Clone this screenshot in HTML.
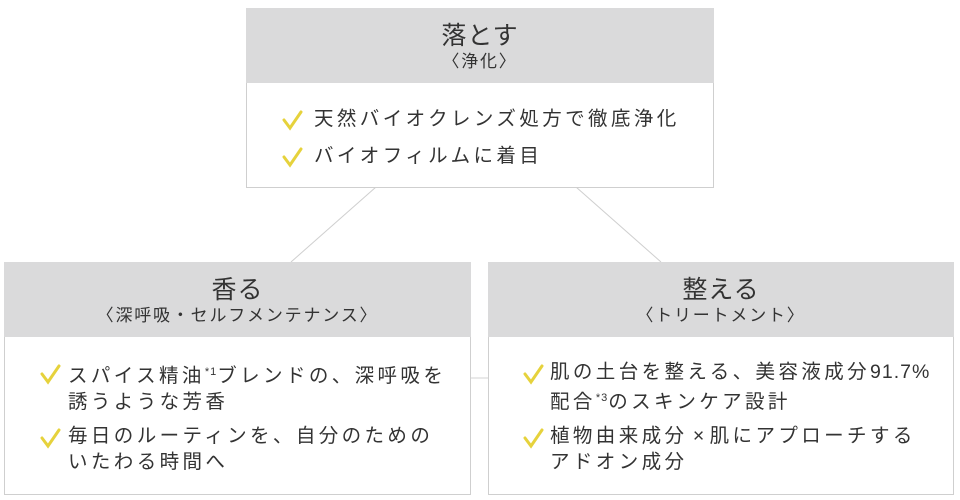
<!DOCTYPE html>
<html><head><meta charset="utf-8"><style>
*{margin:0;padding:0;box-sizing:border-box}
body{width:960px;height:500px;background:#fff;position:relative;overflow:hidden;font-family:"Liberation Sans","Noto Sans CJK JP",sans-serif;color:#333}
.box{position:absolute;border:1px solid #cfcfcf;background:#fff}
.hd{background:#dadadb;text-align:center;height:75px;margin:-1px -1px 0 -1px}
.t{font-size:25px;padding-top:12px;line-height:32px;letter-spacing:1px}
.s{font-size:17px;line-height:20px;letter-spacing:1.8px}
.it{position:absolute;font-size:19.5px;line-height:26px;letter-spacing:3.4px;white-space:nowrap}
sup{font-size:11px;vertical-align:7px;letter-spacing:1px}
</style></head><body>
<svg width="960" height="500" style="position:absolute;left:0;top:0">
<line x1="376" y1="187" x2="291" y2="262" stroke="#cfcfcf" stroke-width="1"/>
<line x1="576" y1="187" x2="661" y2="262" stroke="#cfcfcf" stroke-width="1"/>
<line x1="470" y1="378" x2="488" y2="378" stroke="#e2e2e2" stroke-width="1.5"/>
</svg>
<div class="box" style="left:246px;top:8px;width:468px;height:180px">
<div class="hd"><div class="t">落とす</div><div class="s">〈浄化〉</div></div>
</div>
<div class="box" style="left:4px;top:262px;width:467px;height:233px">
<div class="hd"><div class="t">香る</div><div class="s">〈深呼吸・セルフメンテナンス〉</div></div>
</div>
<div class="box" style="left:488px;top:262px;width:466px;height:233px">
<div class="hd"><div class="t">整える</div><div class="s">〈トリートメント〉</div></div>
</div>
<svg width="960" height="500" style="position:absolute;left:0;top:0" fill="none" stroke="#e6d23c" stroke-width="3" stroke-linecap="round">
<path d="M284 120 L290 128 L301 112"/>
<path d="M284 157 L290 165 L301 149"/>
<path d="M42 374 L48 382 L59 366"/>
<path d="M42 438 L48 446 L59 430"/>
<path d="M525 374 L531 382 L542 366"/>
<path d="M525 438 L531 446 L542 430"/>
</svg>
<div class="it" style="left:314px;top:106px">天然バイオクレンズ処方で徹底浄化</div>
<div class="it" style="left:314px;top:143px">バイオフィルムに着目</div>
<div class="it" style="left:68px;top:359px">スパイス精油<sup>*1</sup>ブレンドの、深呼吸を<br>誘うような芳香</div>
<div class="it" style="left:68px;top:423px">毎日のルーティンを、自分のための<br>いたわる時間へ</div>
<div class="it" style="left:550px;top:359px">肌の土台を整える、美容液成分<span style="letter-spacing:1px">91.7%</span><br>配合<sup>*3</sup>のスキンケア設計</div>
<div class="it" style="left:550px;top:423px">植物由来成分<span style="letter-spacing:0"> × </span>肌にアプローチする<br>アドオン成分</div>
</body></html>
